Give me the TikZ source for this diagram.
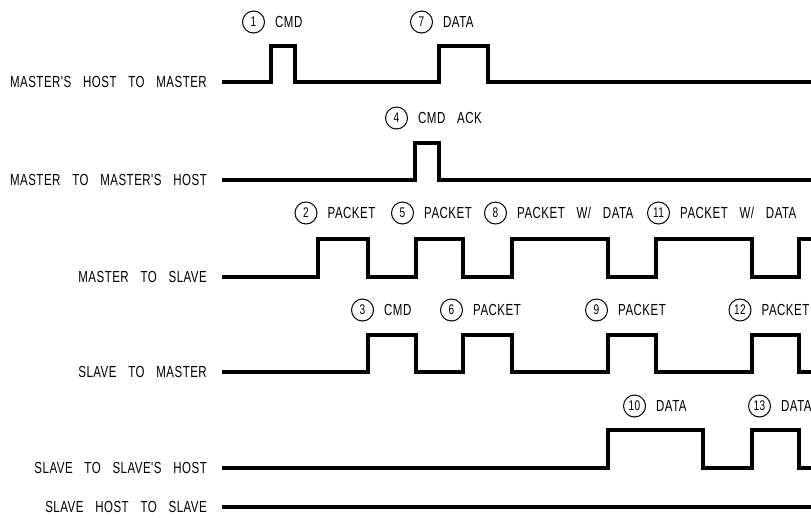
\documentclass[tikz,border=0pt]{standalone}
\usepackage{fontspec}
\newfontfamily\cadfont{Liberation Sans}[FakeStretch=0.72,LetterSpace=3,WordSpace=3.2]
\usetikzlibrary{positioning}

\begin{document}
\begin{tikzpicture}[
  x=1pt,
  y=-1pt,
  font=\cadfont\fontsize{16}{18}\selectfont,
  wave/.style={draw=black,line width=3.2pt,line join=miter},
  sig/.style={anchor=east,inner sep=0pt},
  num/.style={draw=black,circle,line width=1pt,minimum size=22pt,inner sep=0pt,
              font=\cadfont\fontsize{14}{15}\selectfont},
  tag/.style={anchor=west,inner sep=0pt}
]
\useasboundingbox (0,0) rectangle (811,517);

% =====================================================================
% signal names
% =====================================================================
\node[sig] (mhm) at (207,82)  {MASTER'S HOST TO MASTER};
\node[sig] (mmh) at (207,180) {MASTER TO MASTER'S HOST};
\node[sig] (ms)  at (207,277) {MASTER TO SLAVE};
\node[sig] (sm)  at (207,372) {SLAVE TO MASTER};
\node[sig] (ssh) at (207,468) {SLAVE TO SLAVE'S HOST};
\node[sig] (shs) at (207,507) {SLAVE HOST TO SLAVE};

% =====================================================================
% waveforms
% =====================================================================
\draw[wave] (222,82) -| (271,46) -| (295,82) -| (439,46) -| (488,82) -- (815,82);
\draw[wave] (222,180) -| (415,143) -| (439,180) -- (815,180);
\draw[wave] (222,277) -| (318,239) -| (368,277) -| (416,239) -| (463,277)
  -| (512,239) -| (608,277) -| (656,239) -| (752,277) -| (799,239) -- (815,239);
\draw[wave] (222,372) -| (368,335) -| (416,372) -| (463,335) -| (512,372)
  -| (608,335) -| (656,372) -| (752,335) -| (799,372) -- (815,372);
\draw[wave] (222,468) -| (608,430) -| (703,468) -| (752,430) -| (799,468) -- (815,468);
\draw[wave] (222,507) -- (815,507);

% =====================================================================
% numbered events
% =====================================================================
\foreach \n/\x/\y/\txt in {1/253.5/22/CMD, 7/421.5/22/DATA, 4/396.5/118/{CMD ACK},
    2/306/213/PACKET, 5/402.5/213/PACKET, 8/495.5/213/{PACKET W/ DATA},
    11/658.5/213/{PACKET W/ DATA}, 3/362.5/310/CMD, 6/451.5/310/PACKET,
    9/596.5/310/PACKET, 12/740/310/PACKET, 10/634.5/406/DATA, 13/759.5/406/DATA}{
  \node[num] (n\n) at (\x,\y) {\n};
  \node[tag,right=10pt of n\n] (t\n) {\txt};
}

\end{tikzpicture}
\end{document}
